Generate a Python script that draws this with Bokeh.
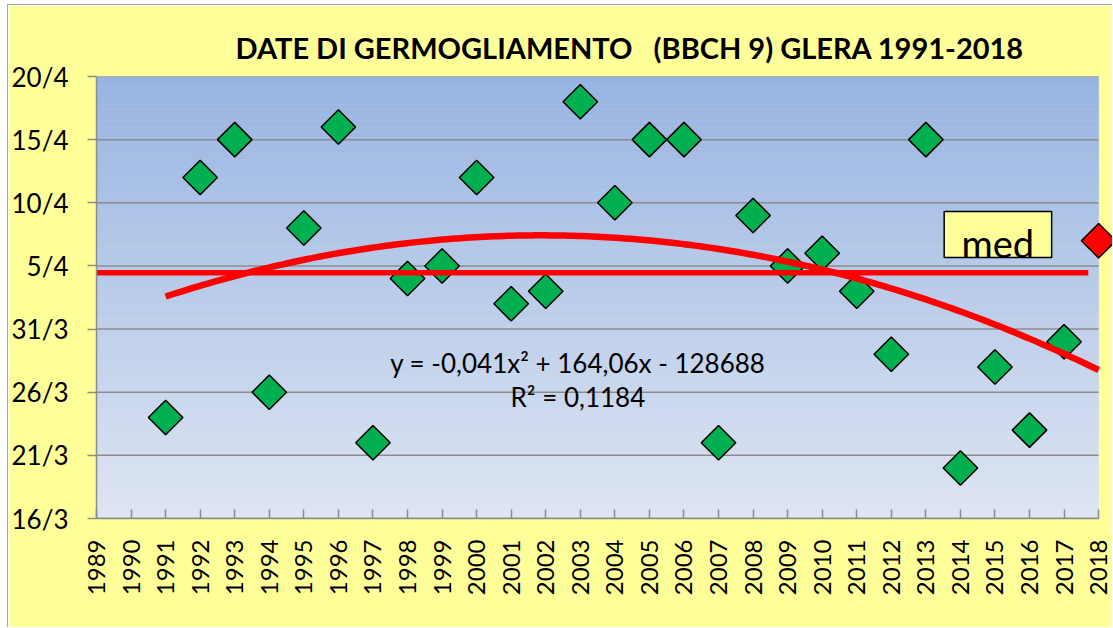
import numpy as np
from bokeh.plotting import figure
from bokeh.models import Range1d, FixedTicker, Label, BoxAnnotation, Title
from bokeh.embed import file_html
from bokeh.resources import INLINE

# ---------------- data ----------------
title_text = "DATE DI GERMOGLIAMENTO \u00a0 (BBCH 9) GLERA 1991-2018"
years = [1991, 1992, 1993, 1994, 1995, 1996, 1997, 1998, 1999, 2000,
         2001, 2002, 2003, 2004, 2005, 2006, 2007, 2008, 2009, 2010,
         2011, 2012, 2013, 2014, 2015, 2016, 2017]
# day of year (non-leap): 75 = 16/3, 95 = 5/4, 110 = 20/4
days = [83, 102, 105, 85, 98, 106, 81, 94, 95, 102,
        92, 93, 108, 100, 105, 105, 81, 99, 95, 96,
        93, 88, 105, 79, 87, 82, 89]
last_year = [2018]
last_day = [97]
x_tick_years = list(range(1989, 2019))
y_tick_days = [75, 80, 85, 90, 95, 100, 105, 110]
y_tick_labels = ["16/3", "21/3", "26/3", "31/3", "5/4", "10/4", "15/4", "20/4"]
equation_text = "y = -0,041x² + 164,06x - 128688"
r2_text = "R² = 0,1184"
med_text = "med"
med_span_years = [1989, 2017.7]

# ---------------- style ----------------
YELLOW = "#FFFF99"
GRID = "#8C8C8C"
FONT = "Lato"

p = figure(width=1105, height=623,
           x_range=Range1d(1989, 2018.43), y_range=Range1d(75, 110),
           output_backend="svg", toolbar_location=None,
           min_border_left=86, min_border_right=0,
           min_border_top=71, min_border_bottom=110,
           background_fill_color=YELLOW, border_fill_color=YELLOW,
           outline_line_color=None,
           styles={"margin-left": "7px", "margin-top": "4px",
                   "border-left": "1px solid #A6A6A6",
                   "border-top": "1px solid #A6A6A6"})
p.xgrid.visible = False
p.ygrid.visible = False

# gradient plot area
n = 80
edges = np.linspace(y_tick_days[0], y_tick_days[-1], n + 1)
top_c = np.array([152, 180, 226])
bot_c = np.array([222, 229, 243])
cols = []
for i in range(n):
    t = (i + 0.5) / n
    c = bot_c + (top_c - bot_c) * t
    cols.append("#%02x%02x%02x" % tuple(int(round(v)) for v in c))
p.quad(left=x_tick_years[0], right=x_tick_years[-1], bottom=edges[:-1], top=edges[1:],
       fill_color=cols, line_color=cols, line_width=0.6)

# gridlines
p.segment(x0=x_tick_years[0], x1=x_tick_years[-1], y0=y_tick_days, y1=y_tick_days,
          line_color=GRID, line_width=1.5)

# axes
ya = p.yaxis[0]
ya.ticker = FixedTicker(ticks=y_tick_days)
ya.major_label_overrides = {d: s for d, s in zip(y_tick_days, y_tick_labels)}
ya.major_tick_out = 9
ya.major_tick_in = 0
ya.minor_tick_line_color = None
ya.axis_line_color = GRID
ya.axis_line_width = 1.5
ya.major_tick_line_color = GRID
ya.major_tick_line_width = 1.5
ya.major_label_text_font = FONT
ya.major_label_text_font_size = "26px"
ya.major_label_text_color = "black"
ya.major_label_standoff = 19

xa = p.xaxis[0]
xa.ticker = FixedTicker(ticks=x_tick_years)
xa.major_label_overrides = {y: str(y) for y in x_tick_years}
xa.bounds = (x_tick_years[0], x_tick_years[-1])
xa.major_label_orientation = np.pi / 2
xa.major_tick_in = 9
xa.major_tick_out = 0
xa.minor_tick_line_color = None
xa.axis_line_color = GRID
xa.axis_line_width = 1.5
xa.major_tick_line_color = GRID
xa.major_tick_line_width = 1.5
xa.major_label_text_font = FONT
xa.major_label_text_font_size = "24px"
xa.major_label_text_color = "black"
xa.major_label_standoff = 21

# markers (green series; its trendline includes the 2018 point)
p.scatter(years, days, marker="square", size=24.4, angle=np.pi / 4,
          fill_color="#00B050", line_color="black", line_width=1.5)

all_x = np.array(years + last_year, dtype=float)
all_y = np.array(days + last_day, dtype=float)
coef = np.polyfit(all_x - 2000, all_y, 2)
tx = np.linspace(years[0], last_year[0], 200)
p.line(tx, np.polyval(coef, tx - 2000), line_color="red", line_width=6.5)

med = float(np.mean(all_y))
p.line(med_span_years, [med, med], line_color="red", line_width=5.5)

p.scatter(last_year, last_day, marker="square", size=24.4, angle=np.pi / 4,
          fill_color="#FF0000", line_color="black", line_width=1.5)

# title
t = Title(text=title_text, text_font=FONT, text_font_style="bold",
          text_font_size="29px", text_color="black", align="left",
          offset=139, standoff=24, vertical_align="bottom")
p.add_layout(t, "above")

# texts (y given as visual middle of text)
PX = 12.63  # only for converting measured pixel offsets
p.add_layout(Label(x=2002.93, y=110 - (362.75 - 76) / PX, text=equation_text, text_font=FONT,
                   text_font_size="26px", text_align="center",
                   text_baseline="middle", text_color="black"))
p.add_layout(Label(x=2002.93, y=110 - (396.75 - 76) / PX, text=r2_text, text_font=FONT,
                   text_font_size="26px", text_align="center",
                   text_baseline="middle", text_color="black"))
p.add_layout(BoxAnnotation(left=2013.53, right=2016.64, top=99.31, bottom=95.67,
                           fill_color=YELLOW, fill_alpha=1, line_color="black",
                           line_width=1.5, line_alpha=1))
p.add_layout(Label(x=2015.08, y=110 - (243 - 76) / PX, text=med_text, text_font=FONT,
                   text_font_size="38px", text_align="center",
                   text_baseline="middle", text_color="black"))

open("out.html", "w").write(file_html(p, INLINE))
